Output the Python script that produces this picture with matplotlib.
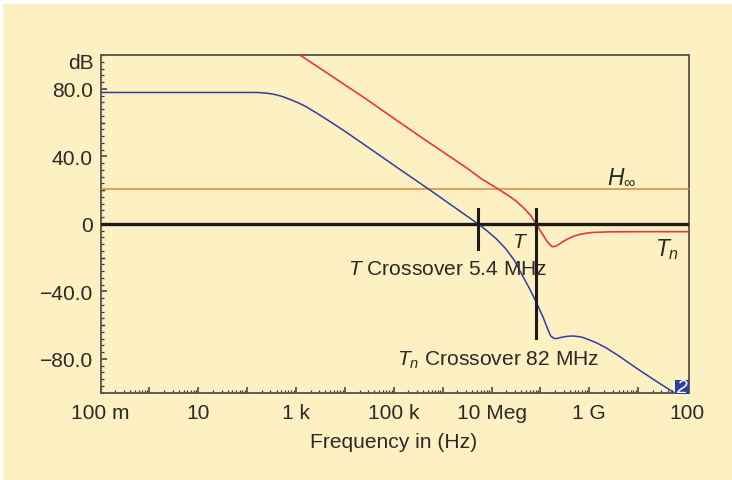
import numpy as np
import matplotlib
matplotlib.use("Agg")
import matplotlib.pyplot as plt
from matplotlib.patches import Rectangle
from matplotlib.ticker import FixedLocator, NullFormatter, FixedFormatter

plt.rcParams['font.family'] = ['Liberation Sans', 'DejaVu Sans']
plt.rcParams['mathtext.fontset'] = 'custom'
plt.rcParams['mathtext.rm'] = 'Liberation Sans'
plt.rcParams['mathtext.it'] = 'Liberation Sans:italic'
plt.rcParams['mathtext.bf'] = 'Liberation Sans:bold'

# Data (log10 of frequency, level in dB)
t_log = [-1, 1, 2.2, 2.4, 2.55, 2.7, 2.85, 3.02, 3.2, 3.4, 3.7, 4.0, 4.43, 5.1, 5.7, 6.2, 6.72, 6.9, 7.1, 7.29, 7.47, 7.63, 7.77, 7.91,
         8.05, 8.15, 8.21, 8.29, 8.36, 8.45, 8.55, 8.68, 8.85, 8.99, 9.15, 9.34, 9.6, 9.89, 10.3, 10.71]
t_db = [77.8, 77.8, 77.8, 77.4, 76.7, 75.6, 74.0, 72.0, 69.5, 66.0, 60.5, 54.8, 46.2, 32.7, 20.8, 10.6, 0, -4.0, -9.0, -14.8, -21.8, -30.6, -38, -46.2,
        -55, -62.5, -66.5, -68.1, -67.8, -67.2, -66.7, -66.5, -67.2, -68.7, -70.6, -73.5, -78.2, -84.1, -92, -99.6]
tn_log = [3.08, 3.6, 4.43, 5.0, 5.6, 6.2, 6.515, 6.8, 7.13, 7.35, 7.5, 7.65, 7.8, 7.91, 8.05, 8.15, 8.24, 8.31, 8.38, 8.46, 8.56, 8.68, 8.85, 9.05, 9.4, 10.0, 11.03]
tn_db = [100, 90, 74, 62.5, 50.5, 38.8, 32.6, 26.5, 20.7, 16.6, 13.5, 9.6, 5.0, 0, -6.5, -11, -13.6, -13.4, -12.2, -10.6, -9.0, -7.4, -6.0, -5.2, -4.8, -4.7, -4.7]
h_inf_db = 20.7
t_cross_log = 6.72
tn_cross_log = 7.91

major_log = list(range(-1, 12))
label_log = [-1, 1, 3, 5, 7, 9, 11]
x_labels = ['100 m', '10', '1 k', '100 k', '10 Meg', '1 G', '100']
y_labels = ['\u221280.0', '\u221240.0', '0', '40.0', '80.0']
y_label_vals = [-80, -40, 0, 40, 80]

W, H = 732, 481
BG = '#fdf0c3'
INK = '#2b2a25'
FS = 15.1

fig = plt.figure(figsize=(W / 100, H / 100), dpi=100, facecolor='white')
fig.patches.append(Rectangle((3 / W, 0), 1 - 3 / W, 1 - 5 / H, transform=fig.transFigure,
                             facecolor=BG, edgecolor='none', zorder=-5))
ax = fig.add_axes([100.5 / W, 1 - 393.5 / H, 588 / W, 337.5 / H])
ax.set_facecolor(BG)
ax.set_xscale('log')
ax.set_xlim(0.1, 10 ** 11.03)
ax.set_ylim(-100, 100)

for s in ax.spines.values():
    s.set_color('#55534a')
    s.set_linewidth(1.3)

ax.xaxis.set_major_locator(FixedLocator([10.0 ** e for e in major_log]))
ax.xaxis.set_major_formatter(FixedFormatter([x_labels[label_log.index(e)] if e in label_log else '' for e in major_log]))
minor_x = [m * 10.0 ** e for e in major_log for m in range(2, 10)]
ax.xaxis.set_minor_locator(FixedLocator(minor_x))
ax.xaxis.set_minor_formatter(NullFormatter())
ax.yaxis.set_major_locator(FixedLocator(y_label_vals))
ax.yaxis.set_major_formatter(FixedFormatter(y_labels))
ax.yaxis.set_minor_locator(FixedLocator([v for v in range(-100, 101, 4)]))
ax.tick_params(axis='both', which='major', direction='in', length=4.5, width=1.1, color='#3c3a33',
               labelsize=FS, labelcolor=INK, pad=5.5)
ax.tick_params(axis='both', which='minor', direction='in', length=2, width=0.9, color='#3c3a33')
ax.tick_params(axis='x', which='major', pad=7.5)
for v in [-60, -20, 20, 60]:
    ax.plot([0.1, 10 ** -0.93], [v, v], color='#3c3a33', lw=1.0, zorder=2)

ax.axhline(h_inf_db, color='#d98a33', lw=1.1, zorder=3)
ax.axhline(0, color='#1c1b18', lw=2.4, zorder=4)
ax.plot(10.0 ** np.array(t_log), t_db, color='#2f3f9f', lw=1.1, zorder=5)
ax.plot(10.0 ** np.array(tn_log), tn_db, color='#ee3340', lw=1.2, zorder=5)
ax.plot([10 ** t_cross_log] * 2, [9, -15], color='#1c1b18', lw=2.2, zorder=6)
ax.plot([10 ** tn_cross_log] * 2, [9, -67.5], color='#1c1b18', lw=2.2, zorder=6)

def label(px, py, s, size=FS, **kw):
    kw.setdefault('ha', 'left')
    kw.setdefault('va', 'baseline')
    fig.text(px / W, 1 - py / H, s, fontsize=size, color=INK, **kw)

label(94, 69, 'dB', ha='right')
label(394, 448, 'Frequency in (Hz)', ha='center')
label(607, 183, r'$\mathit{H}_{\infty}$', size=16.5)
label(512, 248, r'$\mathit{T}$')
label(655, 256, r'$\mathit{T}_{n}$', size=16.5)
label(348, 275, r'$\mathit{T}$ Crossover 5.4 MHz')
label(397, 366, r'$\mathit{T}_{n}$ Crossover 82 MHz')

# corner badge
fig.patches.append(Rectangle((675 / W, 1 - 395 / H), 14 / W, 14 / H, transform=fig.transFigure,
                             facecolor='#2f3f9f', edgecolor='none', zorder=10))
fig.text(682 / W, 1 - 393.5 / H, '2', color='white', fontsize=14, ha='center', va='baseline',
         style='italic', zorder=11)

fig.savefig('out.png', dpi=100, facecolor='white')
